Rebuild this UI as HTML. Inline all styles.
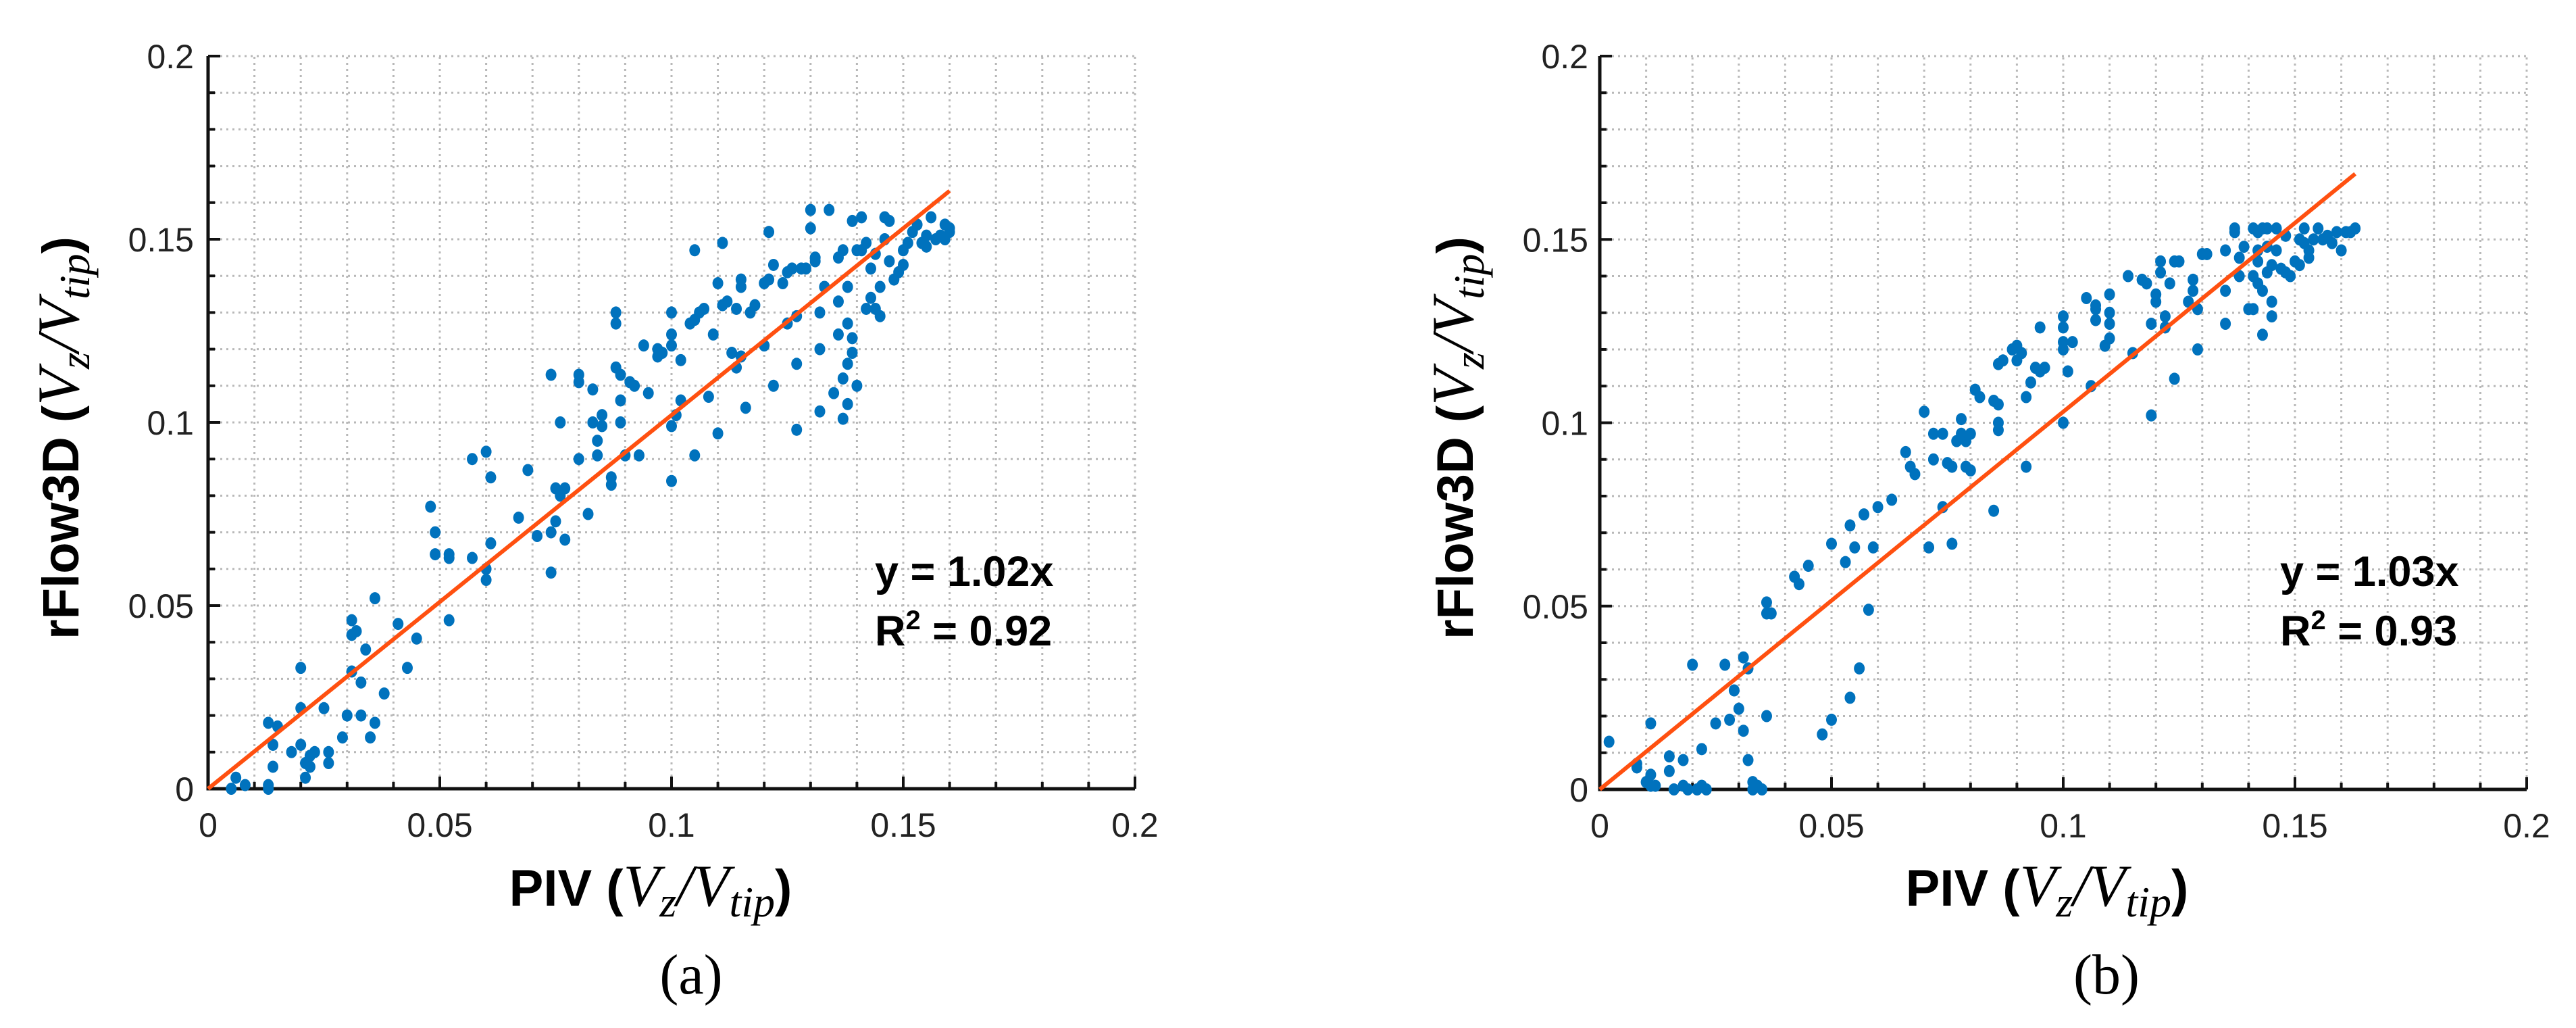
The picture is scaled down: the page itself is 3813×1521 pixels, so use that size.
<!DOCTYPE html>
<html><head><meta charset="utf-8"><style>
html,body{margin:0;padding:0;background:#fff;}
svg{display:block;}
</style></head><body>
<svg id="fig" width="3813" height="1521" viewBox="0 0 3813 1521" xmlns="http://www.w3.org/2000/svg"></svg>
<script>
// ---------- data ----------
const tickValues = [0, 0.05, 0.1, 0.15, 0.2];
const tickLabels = ["0", "0.05", "0.1", "0.15", "0.2"];
const fitA = { slope: 1.02, xEnd: 0.16, eq: "y = 1.02x", r2: "0.92" };
const fitB = { slope: 1.03, xEnd: 0.163, eq: "y = 1.03x", r2: "0.93" };
const pivA = [0.005,0.006,0.008,0.013,0.013,0.013,0.014,0.014,0.015,0.018,0.02,0.02,0.02,0.021,0.021,0.022,0.022,0.023,0.025,0.026,0.026,0.029,0.03,0.031,0.031,0.031,0.032,0.033,0.033,0.034,0.035,0.036,0.036,0.038,0.041,0.043,0.045,0.048,0.049,0.049,0.052,0.052,0.052,0.057,0.057,0.06,0.06,0.06,0.061,0.061,0.067,0.069,0.071,0.074,0.074,0.074,0.075,0.075,0.076,0.076,0.077,0.077,0.08,0.08,0.08,0.082,0.083,0.083,0.084,0.084,0.085,0.085,0.087,0.087,0.088,0.088,0.088,0.089,0.089,0.089,0.09,0.091,0.092,0.093,0.094,0.095,0.097,0.097,0.098,0.1,0.1,0.1,0.1,0.1,0.101,0.102,0.102,0.104,0.105,0.105,0.105,0.106,0.107,0.108,0.109,0.11,0.11,0.111,0.111,0.112,0.113,0.114,0.114,0.115,0.115,0.115,0.116,0.117,0.118,0.12,0.12,0.121,0.121,0.122,0.122,0.124,0.125,0.125,0.126,0.127,0.127,0.127,0.128,0.129,0.13,0.13,0.131,0.131,0.132,0.132,0.132,0.133,0.134,0.135,0.136,0.136,0.136,0.137,0.137,0.137,0.138,0.138,0.138,0.138,0.139,0.139,0.139,0.14,0.14,0.141,0.141,0.142,0.142,0.143,0.143,0.144,0.144,0.145,0.145,0.146,0.146,0.147,0.147,0.148,0.149,0.15,0.15,0.151,0.152,0.153,0.154,0.155,0.155,0.156,0.157,0.158,0.159,0.159,0.16,0.16];
const cfdA = [0.0,0.003,0.001,0.0,0.001,0.018,0.012,0.006,0.017,0.01,0.033,0.022,0.012,0.007,0.003,0.009,0.006,0.01,0.022,0.007,0.01,0.014,0.02,0.032,0.046,0.042,0.043,0.029,0.02,0.038,0.014,0.018,0.052,0.026,0.045,0.033,0.041,0.077,0.064,0.07,0.064,0.063,0.046,0.09,0.063,0.092,0.057,0.06,0.067,0.085,0.074,0.087,0.069,0.07,0.059,0.113,0.082,0.073,0.08,0.1,0.082,0.068,0.111,0.113,0.09,0.075,0.1,0.109,0.095,0.091,0.099,0.102,0.085,0.083,0.115,0.13,0.127,0.113,0.1,0.106,0.091,0.111,0.11,0.091,0.121,0.108,0.118,0.12,0.119,0.121,0.124,0.13,0.099,0.084,0.102,0.117,0.106,0.127,0.128,0.091,0.147,0.13,0.131,0.107,0.124,0.138,0.097,0.149,0.132,0.133,0.119,0.131,0.115,0.118,0.137,0.139,0.104,0.13,0.132,0.138,0.121,0.152,0.139,0.11,0.143,0.138,0.127,0.141,0.142,0.098,0.116,0.129,0.142,0.142,0.158,0.153,0.145,0.144,0.103,0.12,0.13,0.137,0.158,0.108,0.133,0.124,0.145,0.112,0.147,0.101,0.105,0.127,0.137,0.116,0.155,0.119,0.123,0.11,0.147,0.156,0.147,0.131,0.149,0.134,0.142,0.131,0.146,0.137,0.129,0.156,0.15,0.155,0.144,0.139,0.141,0.143,0.147,0.149,0.152,0.154,0.149,0.151,0.148,0.156,0.15,0.151,0.15,0.154,0.152,0.153];
const pivB = [0.002,0.008,0.008,0.01,0.011,0.011,0.011,0.012,0.015,0.015,0.016,0.018,0.018,0.019,0.02,0.021,0.022,0.022,0.023,0.025,0.027,0.028,0.029,0.03,0.031,0.031,0.032,0.032,0.033,0.033,0.034,0.035,0.036,0.036,0.036,0.037,0.042,0.043,0.045,0.048,0.05,0.05,0.053,0.054,0.054,0.055,0.056,0.057,0.058,0.059,0.06,0.063,0.066,0.067,0.068,0.07,0.071,0.072,0.072,0.074,0.074,0.075,0.076,0.076,0.077,0.078,0.078,0.079,0.079,0.08,0.08,0.081,0.082,0.085,0.085,0.086,0.086,0.086,0.086,0.087,0.089,0.09,0.09,0.091,0.092,0.092,0.093,0.094,0.095,0.095,0.096,0.1,0.1,0.1,0.1,0.1,0.101,0.102,0.105,0.106,0.107,0.107,0.107,0.109,0.11,0.11,0.11,0.11,0.114,0.115,0.117,0.118,0.119,0.119,0.12,0.12,0.121,0.121,0.122,0.122,0.123,0.124,0.124,0.125,0.127,0.128,0.128,0.129,0.129,0.13,0.131,0.135,0.135,0.135,0.137,0.137,0.138,0.138,0.139,0.14,0.141,0.141,0.141,0.142,0.142,0.142,0.142,0.143,0.143,0.143,0.144,0.144,0.144,0.145,0.145,0.145,0.146,0.146,0.147,0.148,0.148,0.149,0.15,0.151,0.151,0.152,0.152,0.153,0.153,0.154,0.155,0.156,0.157,0.158,0.159,0.16,0.161,0.162,0.163];
const cfdB = [0.013,0.006,0.007,0.002,0.001,0.018,0.004,0.001,0.005,0.009,0.0,0.001,0.008,0.0,0.034,0.0,0.001,0.011,0.0,0.018,0.034,0.019,0.027,0.022,0.036,0.016,0.033,0.008,0.0,0.002,0.001,0.0,0.02,0.048,0.051,0.048,0.058,0.056,0.061,0.015,0.019,0.067,0.062,0.025,0.072,0.066,0.033,0.075,0.049,0.066,0.077,0.079,0.092,0.088,0.086,0.103,0.066,0.097,0.09,0.077,0.097,0.089,0.088,0.067,0.095,0.097,0.101,0.095,0.088,0.097,0.087,0.109,0.107,0.106,0.076,0.105,0.116,0.098,0.1,0.117,0.12,0.121,0.117,0.119,0.107,0.088,0.111,0.115,0.126,0.114,0.115,0.1,0.12,0.122,0.126,0.129,0.114,0.122,0.134,0.11,0.128,0.131,0.132,0.121,0.127,0.135,0.13,0.123,0.14,0.119,0.139,0.138,0.127,0.102,0.133,0.135,0.144,0.141,0.129,0.126,0.138,0.144,0.112,0.144,0.133,0.136,0.139,0.12,0.131,0.146,0.146,0.136,0.127,0.147,0.152,0.153,0.145,0.14,0.148,0.131,0.131,0.153,0.14,0.138,0.147,0.144,0.152,0.153,0.124,0.136,0.141,0.153,0.148,0.129,0.133,0.143,0.153,0.147,0.142,0.141,0.151,0.14,0.144,0.15,0.143,0.153,0.149,0.145,0.147,0.15,0.153,0.15,0.151,0.149,0.152,0.147,0.152,0.152,0.153];

// ---------- drawing ----------
const NS = "http://www.w3.org/2000/svg";
const svg = document.getElementById("fig");
function mk(tag, attrs, parent) {
  const e = document.createElementNS(NS, tag);
  for (const k in attrs) e.setAttribute(k, attrs[k]);
  (parent || svg).appendChild(e);
  return e;
}

function drawPanel(p) {
  const g = mk("g", {});
  
  
  const W = p.x1 - p.x0, H = p.y0 - p.y1;
  const sx = v => p.x0 + v / 0.2 * W;
  const sy = v => p.y0 - v / 0.2 * H;

  const grid = mk("g", { stroke: "#b8b8b8", "stroke-width": 3, "stroke-dasharray": "3 6" }, g);
  
  
  for (let i = 1; i <= 20; i++) {
    const v = i * 0.01;
    mk("line", { x1: sx(v), y1: p.y0, x2: sx(v), y2: p.y1 }, grid);
    mk("line", { x1: p.x0, y1: sy(v), x2: p.x1, y2: sy(v) }, grid);
  }
  const ticks = mk("g", { stroke: "#111", "stroke-width": 4 }, g);
  
  
  for (let i = 0; i <= 20; i++) {
    const v = i * 0.01, len = (i % 5 === 0) ? 18 : 10;
    mk("line", { x1: sx(v), y1: p.y0, x2: sx(v), y2: p.y0 - len }, ticks);
    mk("line", { x1: p.x0, y1: sy(v), x2: p.x0 + len, y2: sy(v) }, ticks);
  }
  const ax = mk("path", { d: `M${p.x0},${p.y1} V${p.y0} H${p.x1}`, fill: "none", stroke: "#111", "stroke-width": 5 }, g);
  
  

  tickValues.forEach((v, i) => {
    const tx = mk("text", { x: sx(v), y: p.y0 + 71, "text-anchor": "middle", "font-family": "Liberation Sans, sans-serif", "font-size": 50, fill: "#222" }, g);
    tx.textContent = tickLabels[i];
    
    
    const ty = mk("text", { x: p.x0 - p.yLabGap, y: sy(v) + 18, "text-anchor": "end", "font-family": "Liberation Sans, sans-serif", "font-size": 50, fill: "#222" }, g);
    ty.textContent = tickLabels[i];
    
    
  });

  const pts = mk("g", { fill: "#0072BD" }, g);
  
  
  p.xs.forEach((xv, i) => {
    const c = mk("ellipse", { cx: sx(xv), cy: sy(p.ys[i]), rx: 8, ry: 9 }, pts);
    
    
  });

  const fl = mk("line", { x1: sx(0), y1: sy(0), x2: sx(p.fit.xEnd), y2: sy(p.fit.xEnd * p.fit.slope), stroke: "#FF5010", "stroke-width": 6 }, g);
  
  

  const a1 = mk("text", { x: p.annX, y: 867, "font-family": "Liberation Sans, sans-serif", "font-weight": "bold", "font-size": 63, fill: "#000" }, g);
  a1.textContent = p.fit.eq;
  
  
  const a2 = mk("text", { x: p.annX, y: 955, "font-family": "Liberation Sans, sans-serif", "font-weight": "bold", "font-size": 63, fill: "#000" }, g);
  a2.innerHTML = 'R<tspan dy="-24" font-size="40">2</tspan><tspan dy="24"> = ' + p.fit.r2 + '</tspan>';
  
  

  const math = '<tspan font-family="Liberation Serif, serif" font-style="italic" font-weight="normal" font-size="88">V<tspan dy="16" font-size="64">z</tspan><tspan dy="-16">/V</tspan><tspan dy="16" font-size="64">tip</tspan></tspan><tspan dy="-16">)</tspan>';
  const xt = mk("text", { x: p.xtX, y: 1340, "text-anchor": "middle", "font-family": "Liberation Sans, sans-serif", "font-weight": "bold", "font-size": 76, fill: "#000" }, g);
  xt.innerHTML = 'PIV (' + math;
  
  
  const yt = mk("text", { x: 0, y: 0, transform: `translate(${p.ytX},${648}) rotate(-90)`, "text-anchor": "middle", "font-family": "Liberation Sans, sans-serif", "font-weight": "bold", "font-size": 76, fill: "#000" }, g);
  yt.innerHTML = 'rFlow3D (' + math;
  
  

  const cap = mk("text", { x: p.capX, y: 1470, "text-anchor": "middle", "font-family": "Liberation Serif, serif", "font-size": 84, fill: "#000" }, g);
  cap.textContent = p.caption;
  
  
}

drawPanel({ name: "panel-a", x0: 308, x1: 1680, y0: 1167, y1: 83, yLabGap: 21, xs: pivA, ys: cfdA, fit: fitA, annX: 1295, xtX: 963, ytX: 116, capX: 1023, caption: "(a)" });
drawPanel({ name: "panel-b", x0: 2368, x1: 3740, y0: 1168, y1: 83, yLabGap: 17, xs: pivB, ys: cfdB, fit: fitB, annX: 3375, xtX: 3030, ytX: 2180, capX: 3118, caption: "(b)" });
</script>
</body></html>
